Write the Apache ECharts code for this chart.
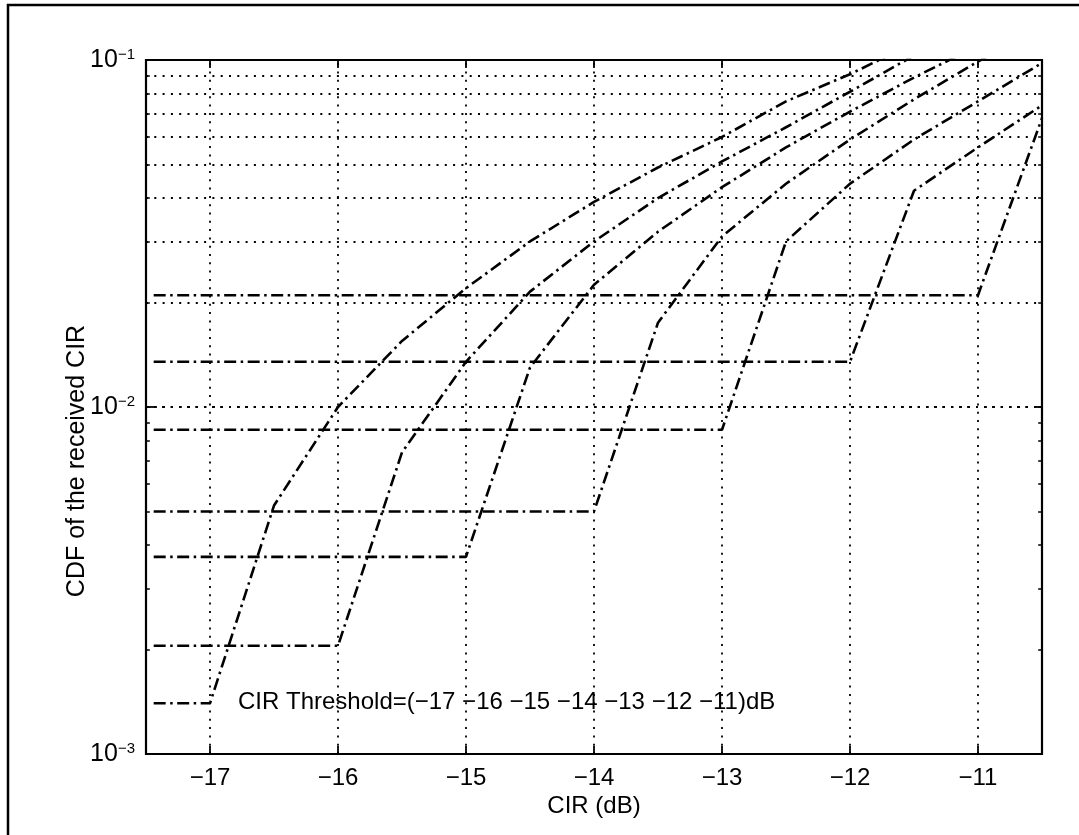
<!DOCTYPE html>
<html>
<head>
<meta charset="utf-8">
<script src="https://cdn.jsdelivr.net/npm/echarts@6/dist/echarts.min.js"></script>
<style>
html,body{margin:0;padding:0;background:#fff;}
#chart{width:1079px;height:835px;}
</style>
</head>
<body>
<div id="chart"></div>
<script>
// ---- data ----
const xTicks = [-17, -16, -15, -14, -13, -12, -11];
const yMajorTicks = [0.001, 0.01, 0.1];
const yGridValues = [0.002, 0.003, 0.004, 0.005, 0.006, 0.007, 0.008, 0.009, 0.01,
                     0.02, 0.03, 0.04, 0.05, 0.06, 0.07, 0.08, 0.09];
const thresholds = [-17, -16, -15, -14, -13, -12, -11];

const curveT17 = [[-17.44, 0.0014], [-17, 0.0014], [-16.5, 0.0052], [-16, 0.010], [-15.5, 0.0155],
                  [-15, 0.022], [-14.5, 0.030], [-14, 0.039], [-13.5, 0.049], [-13, 0.060],
                  [-12.5, 0.076], [-12, 0.091], [-11.5, 0.112]];
const curveT16 = [[-17.44, 0.00205], [-16, 0.00205], [-15.5, 0.0074], [-15, 0.0135], [-14.5, 0.0215],
                  [-14, 0.030], [-13.5, 0.040], [-13, 0.051], [-12.5, 0.064], [-12, 0.081], [-11.5, 0.103]];
const curveT15 = [[-17.44, 0.0037], [-15, 0.0037], [-14.5, 0.013], [-14, 0.0225], [-13.5, 0.032],
                  [-13, 0.043], [-12.5, 0.056], [-12, 0.071], [-11.5, 0.089], [-11, 0.110]];
const curveT14 = [[-17.44, 0.0050], [-14, 0.0050], [-13.5, 0.0175], [-13, 0.031], [-12.5, 0.044],
                  [-12, 0.059], [-11.5, 0.077], [-11, 0.099], [-10.5, 0.125]];
const curveT13 = [[-17.44, 0.0086], [-13, 0.0086], [-12.5, 0.030], [-12, 0.044], [-11.5, 0.059],
                  [-11, 0.076], [-10.5, 0.098]];
const curveT12 = [[-17.44, 0.0135], [-12, 0.0135], [-11.5, 0.042], [-11, 0.056], [-10.5, 0.074]];
const curveT11 = [[-17.44, 0.021], [-11, 0.021], [-10.5, 0.068]];

const curves = [curveT17, curveT16, curveT15, curveT14, curveT13, curveT12, curveT11];
const annotationText = 'CIR Threshold=(\u221217 \u221216 \u221215 \u221214 \u221213 \u221212 \u221211)dB';
const xTitle = 'CIR (dB)';
const yTitle = 'CDF of the received CIR';

// ---- chart ----
const FONT = '"Liberation Sans", Arial, Helvetica, sans-serif';
const chart = echarts.init(document.getElementById('chart'), null, {renderer: 'canvas'});

const dotted = {color: '#000', width: 1.8, type: [2, 6.3]};
const gridMarkData = [];
xTicks.forEach(v => gridMarkData.push({xAxis: v}));
yGridValues.forEach(v => gridMarkData.push({yAxis: v}));

// minor tick marks on left and right edges
const minorTickData = [];
yGridValues.forEach(v => {
  minorTickData.push([{coord: [-17.5, v]}, {coord: [-17.47, v]}]);
  minorTickData.push([{coord: [-10.53, v]}, {coord: [-10.5, v]}]);
});

const series = [
  {
    type: 'line', data: [], silent: true, animation: false,
    markLine: {
      silent: true, animation: false, symbol: ['none', 'none'],
      label: {show: false}, emphasis: {disabled: true},
      lineStyle: dotted, data: gridMarkData
    }
  },
  {
    type: 'line', data: [], silent: true, animation: false,
    markLine: {
      silent: true, animation: false, symbol: ['none', 'none'],
      label: {show: false}, emphasis: {disabled: true},
      lineStyle: {color: '#000', width: 1.5, type: 'solid'}, data: minorTickData
    }
  }
];
curves.forEach((c, i) => {
  series.push({
    name: 'T' + thresholds[i],
    type: 'line', data: c, showSymbol: false, symbol: 'none',
    clip: true, animation: false, silent: true, z: 5,
    lineStyle: {color: '#000', width: 2.6, type: [12, 4.5, 2.5, 4.5]}
  });
});

const xAxisCommon = {
  type: 'value', min: -17.5, max: -10.5,
  axisLine: {show: false}, splitLine: {show: false},
  axisTick: {show: true, inside: true, length: 8, customValues: xTicks,
             lineStyle: {color: '#000', width: 1.8}}
};
const yAxisCommon = {
  type: 'log', logBase: 10, min: 0.001, max: 0.1,
  axisLine: {show: false}, splitLine: {show: false},
  axisTick: {show: true, inside: true, length: 8, lineStyle: {color: '#000', width: 1.8}}
};

chart.setOption({
  backgroundColor: '#fff',
  animation: false,
  grid: {left: 146, right: 37, top: 60, bottom: 81, show: true,
         borderColor: '#000', borderWidth: 2.2, backgroundColor: 'transparent'},
  xAxis: [
    Object.assign({}, xAxisCommon, {
      position: 'bottom',
      axisLabel: {show: true, customValues: xTicks, margin: 12, color: '#000',
                  fontSize: 24, fontFamily: FONT,
                  formatter: v => '\u2212' + Math.abs(v)}
    }),
    Object.assign({}, xAxisCommon, {position: 'top', axisLabel: {show: false}})
  ],
  yAxis: [
    Object.assign({}, yAxisCommon, {
      position: 'left',
      axisLabel: {
        show: true, margin: 11, showMinLabel: true, showMaxLabel: true,
        formatter: v => {
          const e = Math.round(Math.log10(v));
          return '{b|10}{s|\u2212' + Math.abs(e) + '}';
        },
        rich: {
          b: {fontSize: 25, fontFamily: FONT, color: '#000', lineHeight: 26},
          s: {fontSize: 15, fontFamily: FONT, color: '#000', verticalAlign: 'top', lineHeight: 15}
        }
      }
    }),
    Object.assign({}, yAxisCommon, {position: 'right', axisLabel: {show: false}})
  ],
  series: series,
  graphic: [
    {type: 'rect', silent: true, shape: {x: 8, y: 5, width: 1200, height: 1000},
     style: {fill: 'none', stroke: '#000', lineWidth: 2.5}},
    {type: 'text', silent: true, x: 238, y: 702, z: 10,
     style: {text: annotationText, fontSize: 24, fontFamily: FONT, fill: '#000',
             align: 'left', verticalAlign: 'middle'}},
    {type: 'text', silent: true, x: 594, y: 806, z: 10,
     style: {text: xTitle, fontSize: 24, fontFamily: FONT, fill: '#000',
             align: 'center', verticalAlign: 'middle'}},
    {type: 'text', silent: true, x: 77, y: 461, rotation: Math.PI / 2, z: 10,
     style: {text: yTitle, fontSize: 25, fontFamily: FONT, fill: '#000',
             align: 'center', verticalAlign: 'middle'}}
  ]
});
</script>
</body>
</html>
